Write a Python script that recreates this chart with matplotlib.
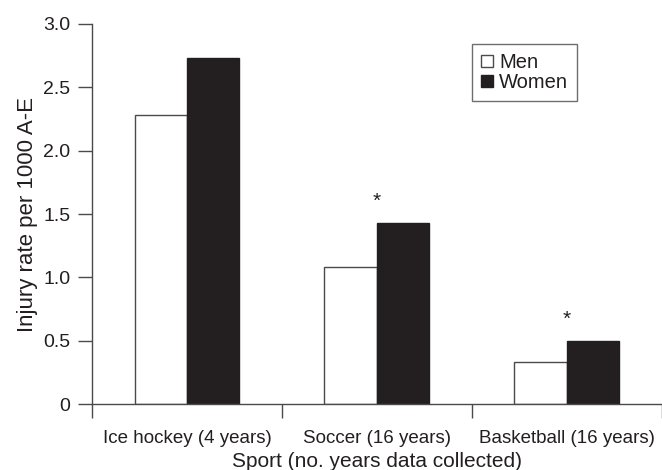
import matplotlib
matplotlib.use("Agg")
import matplotlib.pyplot as plt
from matplotlib.patches import Patch
from matplotlib.ticker import FuncFormatter, FixedLocator

plt.rcParams['font.family'] = ['Liberation Sans', 'DejaVu Sans']

sports = ["Ice hockey (4 years)", "Soccer (16 years)", "Basketball (16 years)"]
men = [2.28, 1.08, 0.33]
women = [2.73, 1.43, 0.50]
significant = [False, True, True]

ink = "#231f20"
edge = "#4a4a4a"

fig = plt.figure(figsize=(6.62, 4.70), dpi=100)
ax = fig.add_axes([0.139, 0.140, 0.8605, 0.809])

centers = [i + 0.5 for i in range(len(sports))]
w = 0.276
ax.bar([c - w / 2 for c in centers], men, width=w, color="white",
       edgecolor=edge, linewidth=1.0, zorder=2)
ax.bar([c + w / 2 for c in centers], women, width=w, color=ink,
       edgecolor=ink, linewidth=1.0, zorder=2)

for c, v, s in zip(centers, women, significant):
    if s:
        ax.text(c, v + 0.17, "*", ha="center", va="center", fontsize=15,
                color=ink)

ax.set_xlim(0, 3)
ax.set_ylim(0, 3)

for side in ("top", "right"):
    ax.spines[side].set_visible(False)
for side in ("left", "bottom"):
    ax.spines[side].set_color(edge)
    ax.spines[side].set_linewidth(1.0)

ax.set_yticks([0, 0.5, 1.0, 1.5, 2.0, 2.5, 3.0])
ax.yaxis.set_major_formatter(FuncFormatter(lambda v, p: "0" if v == 0 else f"{v:.1f}"))
ax.tick_params(axis="y", length=10, width=1.0, color=edge, pad=5.5,
               labelsize=14, labelcolor=ink)

ax.xaxis.set_major_locator(FixedLocator([0, 1, 2, 3]))
ax.xaxis.set_major_formatter(FuncFormatter(lambda v, p: ""))
ax.xaxis.set_minor_locator(FixedLocator(centers))
ax.set_xticklabels(sports, minor=True)
ax.tick_params(axis="x", which="major", length=10, width=1.0, color=edge)
ax.tick_params(axis="x", which="minor", length=0, pad=18.5, labelsize=13.5,
               labelcolor=ink)

ax.set_xlabel("Sport (no. years data collected)", fontsize=15, color=ink,
              labelpad=4)
ax.set_ylabel("Injury rate per 1000 A-E", fontsize=16, color=ink, labelpad=4)

handles = [Patch(facecolor="white", edgecolor=edge, linewidth=1.0, label="Men"),
           Patch(facecolor=ink, edgecolor=ink, linewidth=1.0, label="Women")]
leg = ax.legend(handles=handles, loc="upper left",
                bbox_to_anchor=(0.667, 0.947), fontsize=14.5,
                frameon=True, fancybox=False, handlelength=0.6,
                handleheight=0.6, handletextpad=0.3, borderpad=0.45,
                labelspacing=0.05, borderaxespad=0)
leg.get_frame().set_edgecolor(edge)
leg.get_frame().set_linewidth(1.0)
for t in leg.get_texts():
    t.set_color(ink)

fig.canvas.draw()
# widen the legend frame on the right to leave room after the labels
frame = leg.get_frame()
frame.set_width(frame.get_width() + 9)

fig.savefig("out.png", dpi=100)
